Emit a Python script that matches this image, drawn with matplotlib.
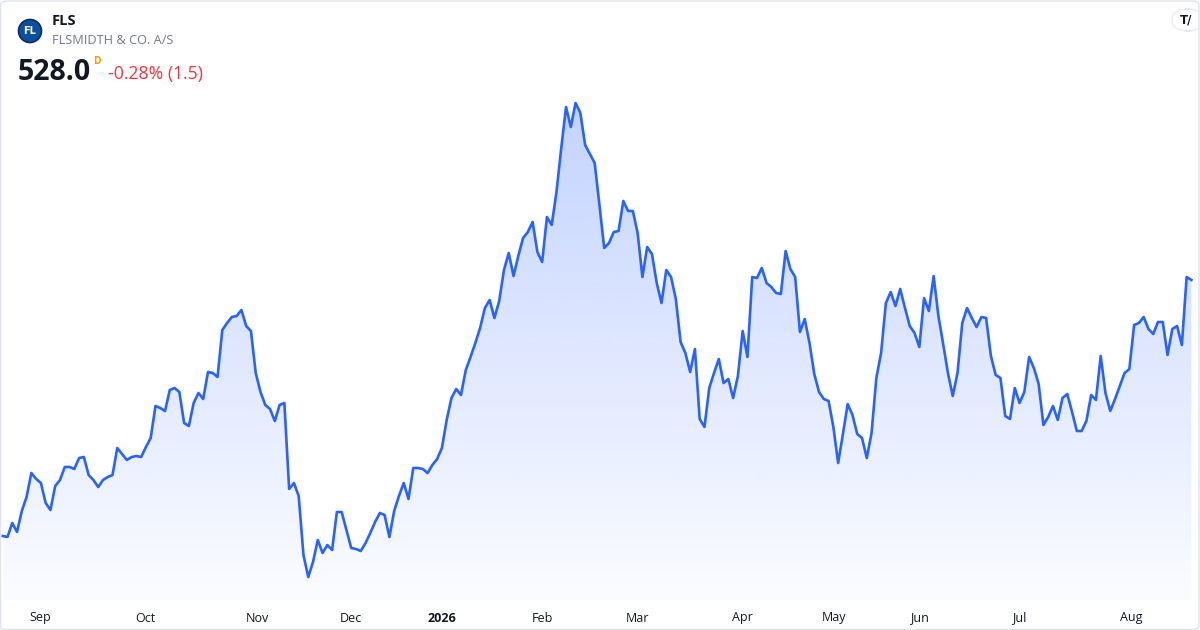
import numpy as np
import matplotlib
matplotlib.use("Agg")
import matplotlib.pyplot as plt
from matplotlib.patches import Polygon, FancyBboxPatch, Ellipse
from matplotlib.transforms import blended_transform_factory

# Daily closes (DKK)
close_2025 = [
    400, 399.5, 406.5, 402, 412.5, 419.5, 431.5, 428.5, 426.5, 416.5,
    413, 425, 428, 434.5, 434.5, 433.5, 439, 439.5, 430.5, 428,
    424.5, 428, 429.5, 430.5, 444, 441, 438, 439.5, 440, 439.5,
    444.5, 449, 465, 464, 462.5, 473, 474, 472, 456.5, 455,
    466.5, 471.5, 468.5, 482, 481.5, 479.5, 503, 506.5, 509.5, 510,
    513, 505, 502.5, 481.5, 472, 465.5, 463.5, 457.5, 465.5, 466.5,
    423.5, 426.5, 420, 390.5, 379.5, 387, 398, 391.5, 395.5, 393,
    412, 412, 403, 394, 393.5, 392.5, 396.5, 401.5, 407, 411.5,
    410.5, 399.5, 412.5, 420, 426.5, 418.5, 434, 434, 433.5, 431.5,
    435.5, 438.5,
]
close_2026 = [
    444, 458, 469, 473.5, 470.5, 483, 489.5, 496.5, 504, 514,
    518, 509, 517.5, 533, 541.5, 530, 540, 549, 552, 557,
    542, 537, 559.5, 555.5, 572, 594, 614.5, 604.5, 616.5, 611.5,
    595.5, 591, 586.5, 565.5, 544, 546.5, 552, 552.5, 567.5, 562.5,
    562.5, 551.5, 529.5, 544.5, 541, 526.5, 516.5, 533, 529.5, 518.5,
    497, 491.5, 482, 493.5, 458.5, 454.5, 474, 481.5, 488.5, 476.5,
    478.5, 469, 480, 502.5, 489.5, 529.5, 529, 534, 526.5, 524.5,
    521.5, 521, 542.5, 533.5, 529.5, 502, 508.5, 496.5, 481, 472,
    468.5, 467.5, 454.5, 436.5, 451, 466, 460.5, 451, 449, 439,
    451.5, 479, 491.5, 516.5, 522, 515, 523.5, 514, 505, 501.5,
    494.5, 519, 512.5, 530, 510, 496, 481.5, 470, 481.5, 506.5,
    514, 509, 504.5, 509.5, 509, 490, 480.5, 479, 460, 458.5,
    474, 466.5, 472, 489.5, 484, 476, 455.5, 459.5, 465, 458,
    469, 471, 462, 452.5, 452.5, 457.5, 470.5, 468, 490, 471.5,
    462.5, 468.5, 475, 481.5, 483.5, 505.5, 506.5, 509.5, 503.5, 501,
    507, 507, 490.5, 503.5, 505, 495.5, 529.5, 528,
]
closes = np.array(close_2025 + close_2026)

month_labels = ["Sep", "Oct", "Nov", "Dec", "2026", "Feb", "Mar", "Apr",
                "May", "Jun", "Jul", "Aug"]
month_pos = [7.8, 29.8, 53.3, 73.0, 92.0, 113.0, 132.9, 154.9,
             174.1, 192.1, 212.9, 236.3]

symbol = "FLS"
company = "FLSMIDTH & CO. A/S"
last_price = "528.0"
change_text = "-0.28% (1.5)"

blue = "#2962FF"
W, H = 1200, 630

fig = plt.figure(figsize=(W / 100, H / 100), dpi=100)
fig.patch.set_facecolor("white")
ax = fig.add_axes([0, 0, 1, 1])
ax.axis("off")

x = np.arange(len(closes))
base = 368

# gradient area under the line
grad = np.zeros((256, 1, 4))
grad[:, 0, 0] = 41 / 255
grad[:, 0, 1] = 98 / 255
grad[:, 0, 2] = 1.0
grad[:, 0, 3] = np.linspace(0.02, 0.28, 256)
im = ax.imshow(grad, extent=[x[0], x[-1], base, closes.max()],
               origin="lower", aspect="auto", zorder=1, interpolation="bilinear")
verts = [(x[0], base)] + list(zip(x, closes)) + [(x[-1], base)]
poly = Polygon(verts, closed=True, facecolor="none", edgecolor="none")
ax.add_patch(poly)
im.set_clip_path(poly)

ax.plot(x, closes, color=blue, lw=1.9, solid_joinstyle="round", zorder=3)

ax.set_xlim(-0.566, 250.8)
ax.set_ylim(353, 668)

# month labels along the bottom
trans = blended_transform_factory(ax.transData, fig.transFigure)
for pos, lab in zip(month_pos, month_labels):
    ax.text(pos, 1 - 618 / H, lab, transform=trans, ha="center", va="center",
            fontsize=9, color="#131722", family="Open Sans",
            fontweight="bold" if lab == "2026" else "normal")


def px(xp, yp):
    return xp / W, 1 - yp / H


# header
logo = Ellipse(px(30, 31), 23 / W, 23 / H, transform=fig.transFigure,
               facecolor="#0b4f9e", edgecolor="#062f66", lw=1.2)
fig.add_artist(logo)
fig.text(*px(30, 31), "FL", ha="center", va="center", color="white",
         fontsize=7, fontweight="bold", family="DejaVu Sans")

fig.text(*px(52, 21), symbol, ha="left", va="center", fontsize=10.5,
         fontweight="bold", color="#131722", family="Open Sans")
fig.text(*px(52, 40), company, ha="left", va="center", fontsize=9.2,
         color="#787B86", family="Open Sans")
fig.text(*px(18, 72), last_price, ha="left", va="center", fontsize=20.5,
         fontweight="bold", color="#131722", family="Open Sans")
fig.text(*px(93, 62), "D", ha="left", va="center", fontsize=7.5,
         fontweight="bold", color="#FF9800", family="Open Sans")
fig.text(*px(108, 74), change_text, ha="left", va="center", fontsize=12.7,
         color="#F23645", family="Open Sans")

# TradingView badge top right
badge = FancyBboxPatch(px(1172, 31), 32 / W, 22 / H, transform=fig.transFigure,
                       boxstyle="round,pad=0,rounding_size=0.016",
                       facecolor="white", edgecolor="#e6e8ee", lw=0.8)
fig.add_artist(badge)
fig.text(*px(1186, 20), "T/", ha="center", va="center", fontsize=8.5,
         fontweight="bold", color="#131722", family="DejaVu Sans")

# outer border
frame = FancyBboxPatch((0.5 / W, 0.5 / H), 1 - 1.5 / W, 1 - 1.5 / H,
                       transform=fig.transFigure,
                       boxstyle="round,pad=0,rounding_size=0.006",
                       facecolor="none", edgecolor="#E0E3EB", lw=1)
fig.add_artist(frame)

fig.savefig("out.png", dpi=100)
